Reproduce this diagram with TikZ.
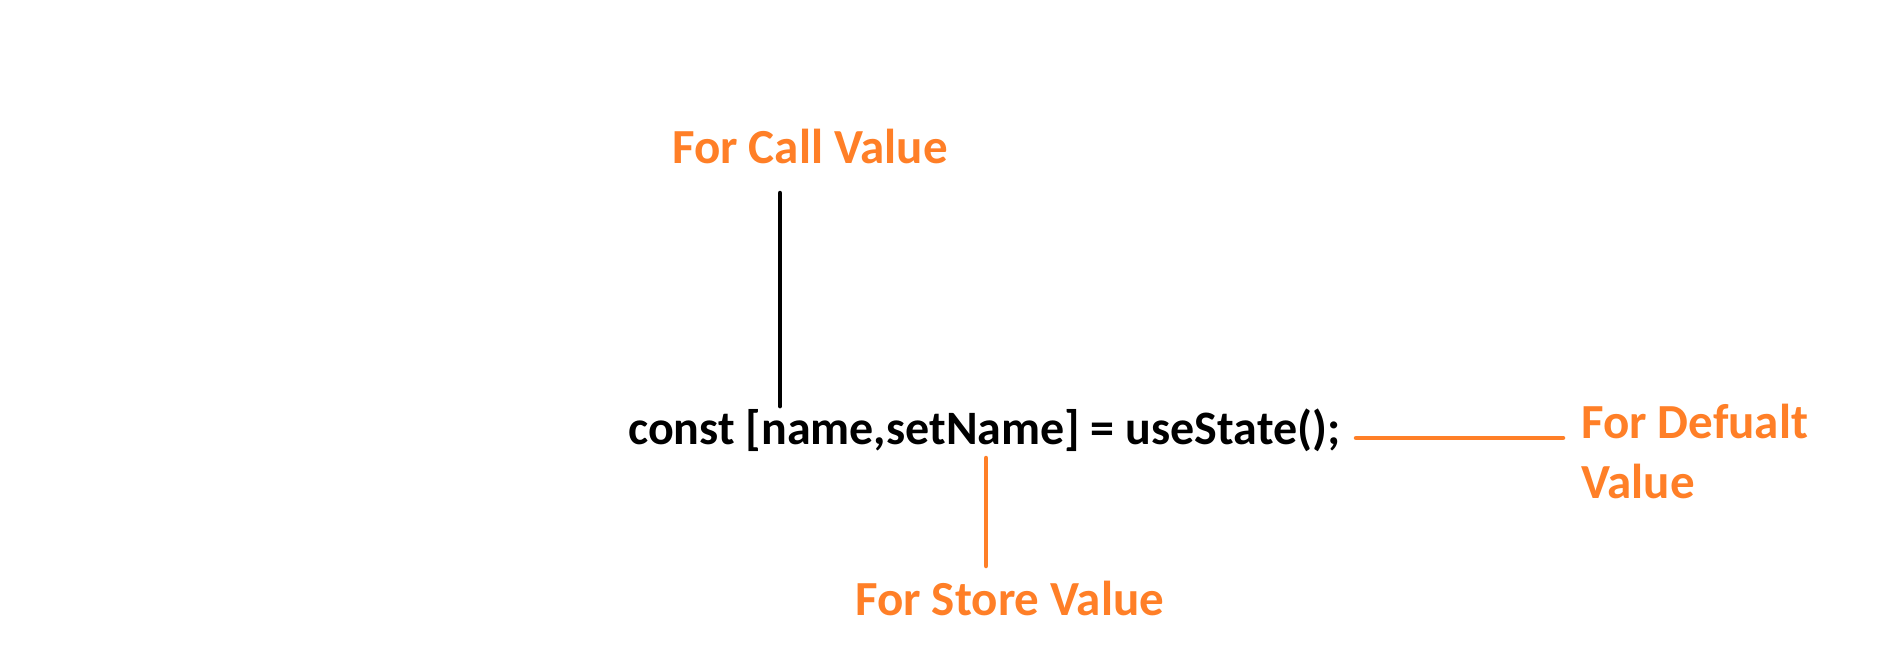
\documentclass[tikz,border=0pt]{standalone}
\usepackage{fontspec}
\setmainfont{Carlito}
\usepackage{tikz}
\usetikzlibrary{positioning, calc}

\definecolor{callout}{RGB}{255,127,39}

\begin{document}
\begin{tikzpicture}[
    x=1pt, y=-1pt,
    codetext/.style={inner sep=0pt, anchor=base west, font=\fontsize{48}{58}\selectfont\bfseries, text=black},
    note/.style={inner sep=0pt, anchor=base west, font=\fontsize{49}{58}\selectfont\bfseries, text=callout, align=left},
    leader/.style={line width=4.5pt, line cap=round},
    orangeline/.style={leader, draw=callout}
]
\useasboundingbox[fill=white] (0,0) rectangle (1896,672);

% Code line
\node[codetext] (stmt) at (628,444) {const [name,setName] = useState();};

% Labels
\node[note] (call) at (672,163) {For Call Value};
\node[note] (store) at (855,615) {For Store Value};
\node[note] (default) at (1581,498) {For Defualt\\[2pt]Value};

% Leader ends
\coordinate (calltop) at (780,193);
\coordinate (storetop) at (986,458);
\coordinate (storebot) at (986,566);
\coordinate (defleft) at (1356,438);
\coordinate (defright) at (1563,438);

% Leaders
\draw[leader] (calltop) -- ([yshift=2pt]calltop |- stmt.north);
\draw[orangeline] (storetop) -- (storebot);
\draw[orangeline] (defleft) -- (defright);

\end{tikzpicture}
\end{document}
